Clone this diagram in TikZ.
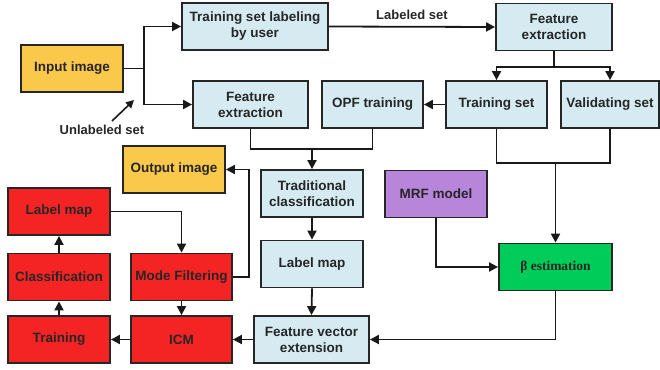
\documentclass[tikz,border=0pt]{standalone}
\usepackage{fontspec}
\setmainfont{Liberation Sans}
\newfontfamily\serifbeta{Liberation Serif}
\usetikzlibrary{arrows.meta}

\definecolor{inyellow}{HTML}{FAC84A}
\definecolor{procblue}{HTML}{D5EBF1}
\definecolor{icmred}{HTML}{F52424}
\definecolor{mrfpurple}{HTML}{B785DA}
\definecolor{betagreen}{HTML}{00CC5A}

\begin{document}
\begin{tikzpicture}[x=1pt,y=-1pt,
		box/.style={draw=black!85,line width=1.8pt,minimum height=47pt,inner sep=1pt,align=center,
			font=\fontsize{13.5}{16}\selectfont\bfseries,text=black!85},
		inbox/.style={box,fill=inyellow,minimum width=102pt},
		procbox/.style={box,fill=procblue},
		redbox/.style={box,fill=icmred,minimum width=102pt},
		flow/.style={line width=1.8pt,black!90,-{Triangle[length=9pt,width=9pt]}},
		wire/.style={line width=1.8pt,black!90}]
	\useasboundingbox (0,0) rectangle (660,369);
	% Inputs and outputs
	\node[inbox] (input) at (72,68.5) {Input image};
	\node[inbox] (output) at (174,169.5) {Output image};
	% Training part
	\node[procbox,minimum width=146pt] (labeling) at (255,26.5) {Training set labeling\\by user};
	\node[procbox,minimum width=115pt] (featL) at (250.5,104.5) {Feature\\extraction};
	\node[procbox,minimum width=116pt] (featR) at (554,27) {Feature\\extraction};
	\node[procbox,minimum width=101pt] (opf) at (372.5,104.5) {OPF training};
	\node[procbox,minimum width=101pt] (trainset) at (496.5,104.5) {Training set};
	\node[procbox,minimum width=98pt] (valset) at (610,104.5) {Validating set};
	% Classification part
	\node[procbox,minimum width=102pt] (tradclass) at (312,193.5) {Traditional\\classification};
	\node[procbox,minimum width=102pt] (labmapB) at (312,264) {Label map};
	\node[procbox,minimum width=115pt] (featvec) at (311.5,339.5) {Feature vector\\extension};
	\node[box,fill=mrfpurple,minimum width=102pt] (mrf) at (436,194) {MRF model};
	\node[box,fill=betagreen,minimum width=113pt,font=\fontsize{13.5}{16}\selectfont\serifbeta\bfseries] (beta) at (555.5,267) {β estimation};
	% MRF part
	\node[redbox] (labmapR) at (59,211.5) {Label map};
	\node[redbox] (classif) at (59,277) {Classification};
	\node[redbox] (training) at (59,339.5) {Training};
	\node[redbox,minimum width=101pt] (mode) at (181.5,277) {Mode Filtering};
	\node[redbox,minimum width=101pt] (icm) at (181.5,339.5) {ICM};
	% Labels
	\node[font=\fontsize{13}{15}\selectfont\bfseries,text=black!85] (unl) at (102,130) {Unlabeled set};
	\coordinate (unlTail) at (112,121);
	\coordinate (unlTip) at (134,100);
	% Junctions
	\coordinate (jn) at (144,68.5);
	\coordinate (split) at (554,67);
	\coordinate (mrg) at (312,149);
	\coordinate (mrg2) at (555.5,163);
	% Connectors
	\draw[wire] (input.east) -- (jn);
	\draw[flow] (jn) |- (labeling.west);
	\draw[flow] (jn) |- (featL.west);
	\draw[line width=1.6pt,black!90,-{Triangle[length=8pt,width=8pt]}] (unlTail) -- (unlTip);
	\draw[flow] (labeling.east) -- node[above=3pt,font=\fontsize{13}{15}\selectfont\bfseries,text=black!85] {Labeled set} (featR.west);
	\draw[wire] (featR.south) -- (split);
	\draw[flow] (split) -| (trainset.north);
	\draw[flow] (split) -| (valset.north);
	\draw[flow] (trainset.west) -- (opf.east);
	\draw[wire] (featL.south) |- (mrg);
	\draw[wire] (opf.south) |- (mrg);
	\draw[flow] (mrg) -- (tradclass.north);
	\draw[wire] (trainset.south) |- (mrg2);
	\draw[wire] (valset.south) |- (mrg2);
	\draw[flow] (mrg2) -- (beta.north);
	\draw[flow] (mrf.south) |- (beta.west);
	\draw[flow] (beta.south) |- (featvec.east);
	\draw[flow] (tradclass.south) -- (labmapB.north);
	\draw[flow] (labmapB.south) -- (featvec.north);
	\draw[flow] (featvec.west) -- (icm.east);
	\draw[flow] (icm.west) -- (training.east);
	\draw[flow] (training.north) -- (classif.south);
	\draw[flow] (classif.north) -- (labmapR.south);
	\draw[flow] (labmapR.east) -| (mode.north);
	\draw[flow] (mode.south) -- (icm.north);
	\draw[flow] (mode.east) -- ++(16,0) |- (output.east);
\end{tikzpicture}
\end{document}
